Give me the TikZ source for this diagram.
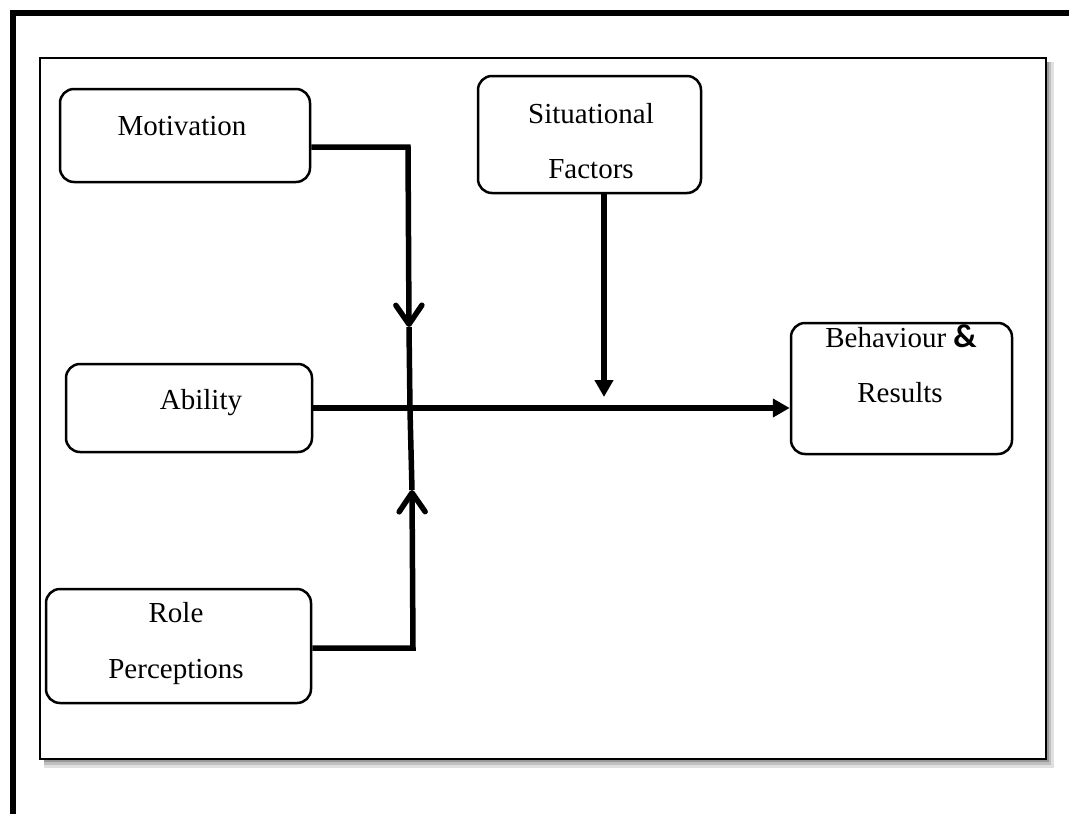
\documentclass[tikz,border=0pt]{standalone}
\usepackage{fontspec}
\setmainfont{Liberation Serif}
\newfontfamily\ampfont{Carlito}
\usetikzlibrary{arrows.meta,shadows,calc}
\begin{document}
\begin{tikzpicture}[x=1pt,y=-1pt,
  box/.style={draw, line width=2.5pt, rounded corners=14pt, inner sep=0pt},
  lbl/.style={anchor=base, inner sep=0pt, font=\fontsize{29pt}{34pt}\selectfont},
  conn/.style={line width=5.5pt},
  barb/.style={-{Straight Barb[length=19pt,width=26pt,round]}},
  tri/.style={-{Triangle[length=17pt,width=18pt]}}
]
\useasboundingbox (0,0) rectangle (1069,814);
% outer frame
\draw[line width=6pt] (13,814) -- (13,13) -- (1069,13);
% inner frame with soft shadow
\fill[black!12] (44,62) rectangle (1054,768);
\fill[black!25] (44,62) rectangle (1051,765);
\fill[black!40] (44,62) rectangle (1049,762);
\draw[line width=2.5pt, fill=white] (40,58) rectangle (1046,759);
% boxes
\node[box, minimum width=250pt, minimum height=93pt]  (mot) at (185,135.5) {};
\node[box, minimum width=246pt, minimum height=88pt]  (abl) at (189,408) {};
\node[box, minimum width=265pt, minimum height=114pt] (rol) at (178.5,646) {};
\node[box, minimum width=223pt, minimum height=117pt] (sit) at (589.5,134.5) {};
\node[box, minimum width=221pt, minimum height=131pt] (beh) at (901.5,388.5) {};
% texts
\node[lbl] (motT)  at (182,135) {Motivation};
\node[lbl] (ablT)  at (201,409) {Ability};
\node[lbl] (rolT1) at (176,622) {Role};
\node[lbl] (rolT2) at (176,678) {Perceptions};
\node[lbl] (sitT1) at (591,123) {Situational};
\node[lbl] (sitT2) at (591,178) {Factors};
\node[lbl] (behT1) at (901,347) {Behaviour {\ampfont\bfseries\fontsize{33pt}{34pt}\selectfont\&}};
\node[lbl] (behT2) at (900,402) {Results};
% connector points
\coordinate (mj) at (408,147);
\coordinate (mtip) at (409,327);
\coordinate (cross) at (410,410);
\coordinate (rj) at (413,648);
\coordinate (rtip) at (412,490);
\coordinate (stip) at (604,397);
% connectors
\draw[conn, barb] (mot.east |- mj) -- (mj) -- (mtip);
\draw[conn] (mtip) -- (cross);
\draw[conn, barb] (rol.east |- rj) -- (rj) -- (rtip);
\draw[conn] (rtip) -- (cross);
\draw[conn, tri] (sit.south -| stip) -- (stip);
\draw[conn, tri] (abl.east) -- (abl.east -| beh.west);
\end{tikzpicture}
\end{document}
